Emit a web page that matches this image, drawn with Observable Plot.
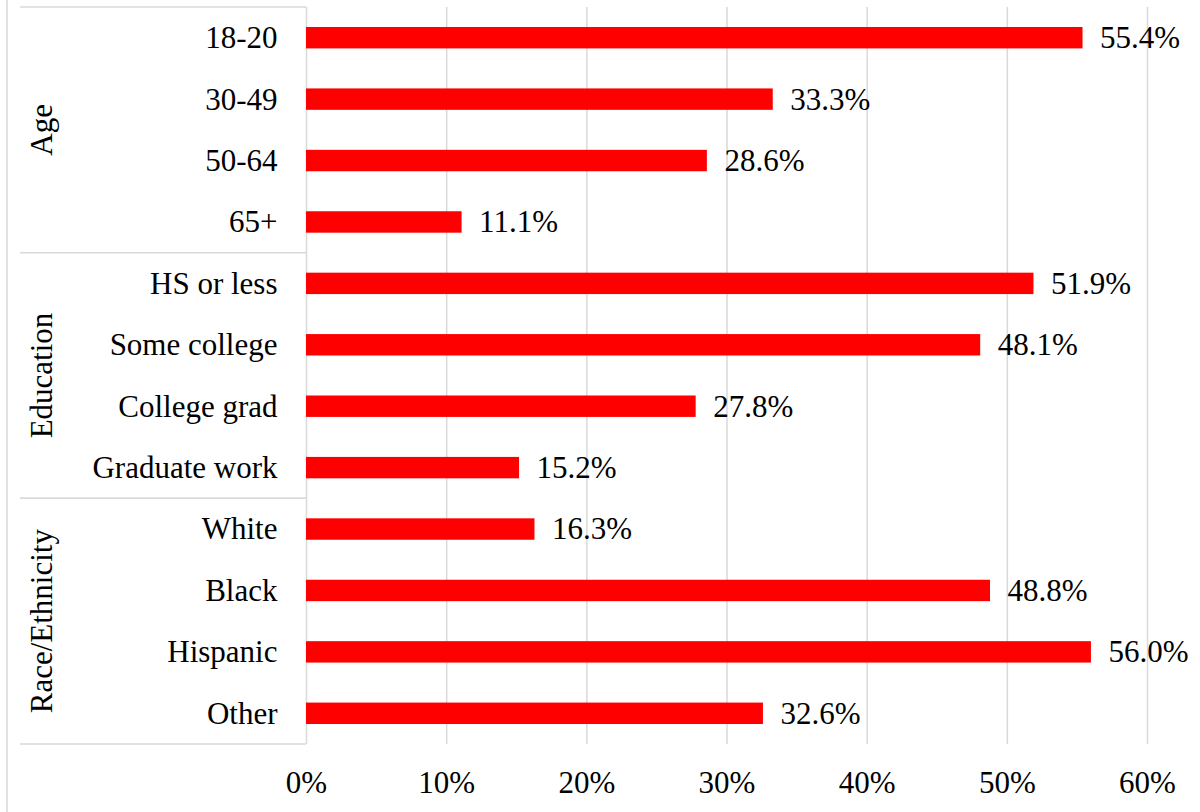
<!DOCTYPE html>
<html>
<head>
<meta charset="utf-8">
<script src="https://cdn.jsdelivr.net/npm/d3@7"></script>
<script src="https://cdn.jsdelivr.net/npm/@observablehq/plot@0.6"></script>
<style>
  html, body { margin: 0; padding: 0; background: #fff; }
  #chart { width: 1200px; height: 812px; }
</style>
</head>
<body>
<div id="chart"></div>
<script>
const categories = ["18-20", "30-49", "50-64", "65+", "HS or less", "Some college", "College grad", "Graduate work", "White", "Black", "Hispanic", "Other"];
const values = [55.4, 33.3, 28.6, 11.1, 51.9, 48.1, 27.8, 15.2, 16.3, 48.8, 56.0, 32.6];
const groupNames = ["Age", "Education", "Race/Ethnicity"];
const groupFirst = ["18-20", "HS or less", "White"];
const groupLast = ["65+", "Graduate work", "Other"];
const xTicks = [0, 10, 20, 30, 40, 50, 60];

const data = categories.map((c, i) => ({category: c, value: values[i]}));
const groups = groupNames.map((g, i) => ({name: g, first: groupFirst[i], last: groupLast[i]}));

const FONT = "'Liberation Serif', 'Times New Roman', serif";
const GRID = "#d9d9d9";

function groupAxis(index, scales, values, dimensions) {
  const y = scales.y;
  const step = y(categories[1]) - y(categories[0]);
  const g = d3.create("svg:g");
  // left chart border
  g.append("line")
    .attr("x1", 7).attr("x2", 7).attr("y1", 0).attr("y2", dimensions.height)
    .attr("stroke", GRID).attr("stroke-width", 1.5);
  const xl = 20, xr = dimensions.marginLeft;
  const bounds = new Set();
  for (const grp of groups) {
    const y0 = y(grp.first);
    const y1 = y(grp.last) + step;
    bounds.add(y0); bounds.add(y1);
    g.append("text")
      .attr("transform", `translate(52,${(y0 + y1) / 2}) rotate(-90)`)
      .attr("text-anchor", "middle")
      .attr("font-family", FONT)
      .attr("font-size", 31)
      .attr("fill", "#000")
      .text(grp.name);
  }
  for (const b of bounds) {
    g.append("line")
      .attr("x1", xl).attr("x2", xr).attr("y1", b).attr("y2", b)
      .attr("stroke", GRID).attr("stroke-width", 1.5);
  }
  return g.node();
}

const chart = Plot.plot({
  width: 1200,
  height: 812,
  marginTop: 7,
  marginBottom: 68,
  marginLeft: 306,
  marginRight: 53,
  style: {fontFamily: FONT, fontSize: "31px", color: "#000", background: "#fff"},
  x: {domain: [0, 60], label: null},
  y: {domain: categories, padding: 0, round: false, label: null},
  marks: [
    Plot.gridX(xTicks, {stroke: GRID, strokeOpacity: 1, strokeWidth: 1.5}),
    Plot.barX(data, {y: "category", x: "value", fill: "#ff0000", insetTop: 20, insetBottom: 20}),
    Plot.text(data, {y: "category", x: "value", text: d => d.value.toFixed(1) + "%", textAnchor: "start", dx: 17, fontSize: 31, fill: "#000"}),
    Plot.axisX(xTicks, {tickSize: 0, tickPadding: 26, tickFormat: d => d + "%", fontSize: 31, label: null}),
    Plot.axisY({tickSize: 0, tickPadding: 29, fontSize: 31, label: null}),
    groupAxis
  ]
});
document.getElementById("chart").appendChild(chart);
</script>
</body>
</html>
